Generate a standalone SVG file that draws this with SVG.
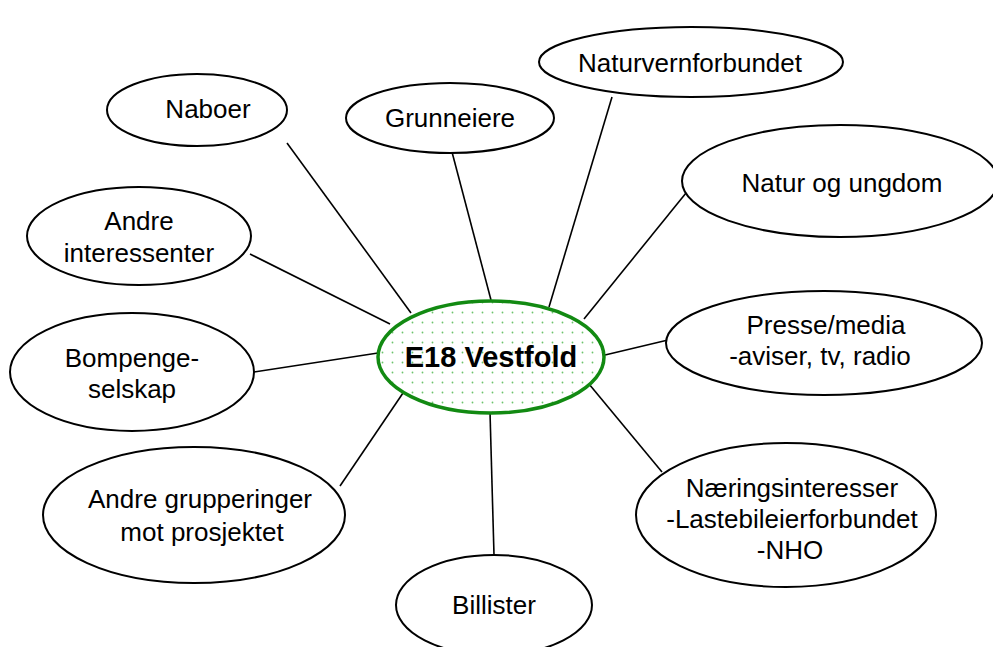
<svg xmlns="http://www.w3.org/2000/svg" width="993" height="647" viewBox="0 0 993 647">
  <style>
    .node { fill: #ffffff; stroke: #000000; stroke-width: 2; }
    .hub { fill: url(#dots); stroke: #128a12; stroke-width: 3.5; }
    .label { font-family: "Liberation Sans", Arial, sans-serif; font-size: 26px; fill: #000000; text-anchor: middle; }
    .hub-label { font-family: "Liberation Sans", Arial, sans-serif; font-size: 29px; font-weight: bold; fill: #000000; text-anchor: middle; }
    .edge { stroke: #000000; stroke-width: 1.6; fill: none; }
  </style>
  <defs>
    <pattern id="dots" width="10" height="10" patternUnits="userSpaceOnUse">
      <rect width="10" height="10" fill="#ffffff"/>
      <circle cx="2.5" cy="2.5" r="0.9" fill="#6cc46c"/>
    </pattern>
  </defs>
  <rect width="993" height="647" fill="#ffffff"/>

  <g id="connectors">
    <line class="edge" x1="287" y1="143" x2="411" y2="313"/>
    <line class="edge" x1="250" y1="254" x2="390" y2="324"/>
    <line class="edge" x1="254" y1="372" x2="378" y2="353"/>
    <line class="edge" x1="340" y1="486" x2="403" y2="393"/>
    <line class="edge" x1="490" y1="412" x2="494" y2="555"/>
    <line class="edge" x1="589" y1="384" x2="662" y2="472"/>
    <line class="edge" x1="605" y1="355" x2="668" y2="340"/>
    <line class="edge" x1="584" y1="319" x2="686" y2="193"/>
    <line class="edge" x1="549" y1="307" x2="612" y2="97"/>
    <line class="edge" x1="452" y1="152" x2="491" y2="300"/>
  </g>

  <g id="naboer">
    <ellipse class="node" cx="197" cy="110" rx="90" ry="36"/>
    <text class="label" x="208" y="118">Naboer</text>
  </g>
  <g id="grunneiere">
    <ellipse class="node" cx="450" cy="118" rx="104" ry="35"/>
    <text class="label" x="450" y="127">Grunneiere</text>
  </g>
  <g id="naturvernforbundet">
    <ellipse class="node" cx="691" cy="62" rx="152" ry="35"/>
    <text class="label" x="690" y="72">Naturvernforbundet</text>
  </g>
  <g id="natur-og-ungdom">
    <ellipse class="node" cx="840" cy="181" rx="158" ry="56"/>
    <text class="label" x="842" y="192">Natur og ungdom</text>
  </g>
  <g id="andre-interessenter">
    <ellipse class="node" cx="139" cy="236" rx="112" ry="49"/>
    <text class="label" x="139" y="230">Andre</text>
    <text class="label" x="139" y="262">interessenter</text>
  </g>
  <g id="bompengeselskap">
    <ellipse class="node" cx="132" cy="372" rx="122" ry="59"/>
    <text class="label" x="132" y="367">Bompenge-</text>
    <text class="label" x="132" y="398">selskap</text>
  </g>
  <g id="presse-media">
    <ellipse class="node" cx="824" cy="343" rx="158" ry="52"/>
    <text class="label" x="826" y="334">Presse/media</text>
    <text class="label" x="820" y="365">-aviser, tv, radio</text>
  </g>
  <g id="andre-grupperinger">
    <ellipse class="node" cx="194" cy="515" rx="151" ry="68"/>
    <text class="label" x="200" y="508">Andre grupperinger</text>
    <text class="label" x="202" y="541">mot prosjektet</text>
  </g>
  <g id="naeringsinteresser">
    <ellipse class="node" cx="786" cy="515" rx="150" ry="72"/>
    <text class="label" x="792" y="497">Næringsinteresser</text>
    <text class="label" x="792" y="528">-Lastebileierforbundet</text>
    <text class="label" x="790" y="559">-NHO</text>
  </g>
  <g id="billister">
    <ellipse class="node" cx="494" cy="605" rx="98" ry="50"/>
    <text class="label" x="494" y="614">Billister</text>
  </g>

  <g id="e18-vestfold">
    <ellipse class="hub" cx="491" cy="357" rx="113" ry="56"/>
    <text class="hub-label" x="491" y="367">E18 Vestfold</text>
  </g>
</svg>
